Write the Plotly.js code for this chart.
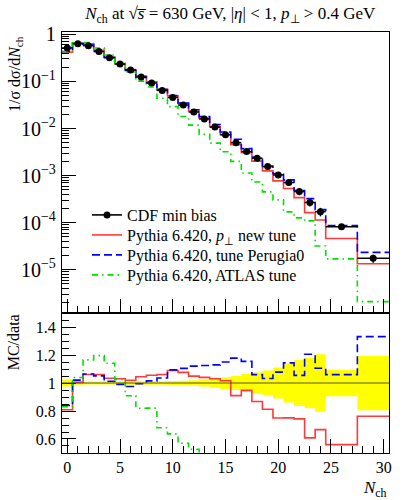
<!DOCTYPE html>
<html>
<head>
<meta charset="utf-8">
<script src="https://cdn.plot.ly/plotly-3.0.1.min.js"></script>
<style>html,body{margin:0;padding:0;background:#fff}#plot{width:406px;height:500px}</style>
</head>
<body>
<div id="plot"></div>
<script>
// bin edges in N_ch
const edges = [-0.5,0.5,1.5,2.5,3.5,4.5,5.5,6.5,7.5,8.5,9.5,10.5,11.5,12.5,13.5,14.5,15.5,16.5,17.5,18.5,19.5,20.5,21.5,22.5,23.5,24.5,27.5,30.5];
// CDF min bias data
const cdfData = [0.514,0.634,0.575,0.43,0.319,0.234,0.175,0.124,0.0925,0.0645,0.0457,0.0315,0.0224,0.0159,0.0107,0.00734,0.0050,0.00324,0.00234,0.00155,0.00103,7.1e-4,4.57e-4,2.68e-4,1.71e-4,8.2e-5,1.75e-5];
// relative data uncertainty
const cdfRelErr = [0.025,0.013,0.01,0.01,0.01,0.012,0.012,0.012,0.013,0.013,0.015,0.017,0.02,0.025,0.033,0.042,0.05,0.065,0.075,0.09,0.11,0.14,0.165,0.18,0.205,0.095,0.195];
// Pythia 6.420, pT new tune
const pythiaPtNew = [0.416,0.637,0.610,0.456,0.330,0.241,0.1785,0.1296,0.0976,0.0684,0.0498,0.0339,0.0235,0.01654,0.01102,0.00746,0.00455,0.00307,0.00203,0.00126,7.73e-4,5.33e-4,3.40e-4,1.63e-4,1.14e-4,4.59e-5,1.335e-5];
// Pythia 6.420, tune Perugia0
const pythiaPerugia0 = [0.432,0.647,0.612,0.452,0.323,0.2317,0.1706,0.1234,0.0939,0.0668,0.0500,0.0348,0.0251,0.01789,0.01209,0.00844,0.00589,0.00374,0.00248,0.0016,0.00111,8.12e-4,4.82e-4,3.23e-4,1.89e-4,8.69e-5,2.33e-5];
// Pythia 6.420, ATLAS tune
const pythiaAtlas = [0.427,0.659,0.670,0.514,0.364,0.240,0.159,0.1017,0.0759,0.0439,0.0291,0.01796,0.0118,7.5e-3,4.9e-3,3.2e-3,2.0e-3,1.13e-3,7.3e-4,4.5e-4,3.04e-4,1.69e-4,1.26e-4,1.09e-4,3.2e-5,1.7e-5,2.1e-6];

const legendNames = ['CDF min bias','Pythia 6.420, <i>p</i><sub>⊥</sub> new tune','Pythia 6.420, tune Perugia0','Pythia 6.420, ATLAS tune'];
const xTickVals = [0,5,10,15,20,25,30];

const FONT = 'Liberation Serif';
const centers = cdfData.map((_, i) => (edges[i] + edges[i+1]) / 2);
const halfW = cdfData.map((_, i) => (edges[i+1] - edges[i]) / 2);
const stepY = v => v.concat([v[v.length-1]]);
const ratio = mc => mc.map((v, i) => v / cdfData[i]);

const RED = '#ff3a3a', BLUE = '#0000ff', GREEN = '#00e000';
const mcStyles = [
  {vals: pythiaPtNew, color: RED, dash: 'solid'},
  {vals: pythiaPerugia0, color: BLUE, dash: '8px,4px'},
  {vals: pythiaAtlas, color: GREEN, dash: '6px,4px,1.5px,4px'}
];
const legendIds = ['legend','legend2','legend3','legend4'];

const traces = [];
// legend-only entry for data (line + marker)
traces.push({x:[null], y:[null], xaxis:'x', yaxis:'y', mode:'lines+markers', name: legendNames[0],
  legend: legendIds[0], line:{color:'black', width:1.6}, marker:{color:'black', size:7}, showlegend:true});

// ratio band
traces.push({x: edges, y: stepY(cdfRelErr.map(e => 1 - e)), xaxis:'x2', yaxis:'y2', mode:'lines',
  line:{shape:'hv', width:0, color:'#ffff00'}, showlegend:false, hoverinfo:'skip'});
traces.push({x: edges, y: stepY(cdfRelErr.map(e => 1 + e)), xaxis:'x2', yaxis:'y2', mode:'lines',
  line:{shape:'hv', width:0, color:'#ffff00'}, fill:'tonexty', fillcolor:'#ffff00', showlegend:false, hoverinfo:'skip'});

mcStyles.forEach((s, k) => {
  traces.push({x: edges, y: stepY(s.vals), xaxis:'x', yaxis:'y', mode:'lines', name: legendNames[k+1],
    legend: legendIds[k+1], line:{shape:'hv', color:s.color, width:1.6, dash:s.dash}, showlegend:true});
});
mcStyles.forEach(s => {
  traces.push({x: edges, y: stepY(ratio(s.vals)), xaxis:'x2', yaxis:'y2', mode:'lines',
    line:{shape:'hv', color:s.color, width:1.6, dash:s.dash}, showlegend:false});
});

// data points
traces.push({x: centers, y: cdfData, xaxis:'x', yaxis:'y', mode:'markers', showlegend:false,
  marker:{color:'black', size:7},
  error_x:{type:'data', array: halfW, color:'black', thickness:1.5, width:0},
  error_y:{type:'data', array: cdfData.map((v,i)=>v*cdfRelErr[i]), color:'black', thickness:1.5, width:0}});

const axisCommon = {showline:true, linecolor:'black', linewidth:1, mirror:true, ticks:'inside',
  ticklen:14, tickcolor:'black', tickwidth:1, showgrid:false, zeroline:false,
  tickfont:{family:FONT, size:16, color:'black'}};

const legendBase = {x:0.0765, xanchor:'left', yanchor:'middle', bgcolor:'rgba(0,0,0,0)', borderwidth:0,
  font:{family:FONT, size:16, color:'black'}};
const legendRowsPx = [215, 235, 255, 275];

const layout = {
  width:406, height:500,
  margin:{l:62, r:17, t:32, b:47},
  paper_bgcolor:'white', plot_bgcolor:'white',
  font:{family:FONT, color:'black'},
  title:{text:'<i>N</i><sub>ch</sub> at √<i>s\u0305</i> = 630 GeV, |<i>η</i>| &lt; 1, <i>p</i><sub>⊥</sub> &gt; 0.4 GeV',
    x:0.567, xanchor:'center', xref:'container', y:0.974, yanchor:'middle', yref:'container',
    font:{family:FONT, size:17, color:'black'}},
  showlegend:true,
  xaxis:Object.assign({}, axisCommon, {domain:[0,1], anchor:'y', range:[-0.5,30.5], matches:'x2',
    showticklabels:false, tickvals:xTickVals,
    minor:{ticks:'inside', ticklen:7, tickcolor:'black', dtick:1, tick0:0, showgrid:false}}),
  yaxis:Object.assign({}, axisCommon, {domain:[0.3325,1], anchor:'x', type:'log', range:[-5.92,0.05],
    dtick:1, exponentformat:'power', ticklabelstandoff:2,
    minor:{ticks:'inside', ticklen:7, tickcolor:'black', dtick:'D1', showgrid:false}}),
  xaxis2:Object.assign({}, axisCommon, {domain:[0,1], anchor:'y2', range:[-0.5,30.5],
    tickvals:xTickVals, ticktext:xTickVals.map(String),
    minor:{ticks:'inside', ticklen:7, tickcolor:'black', dtick:1, tick0:0, showgrid:false}}),
  yaxis2:Object.assign({}, axisCommon, {domain:[0,0.3325], anchor:'x2', range:[0.5,1.5],
    tickvals:[0.6,0.8,1,1.2,1.4], ticktext:['0.6','0.8','1','1.2','1.4'], ticklabelstandoff:2,
    minor:{ticks:'inside', ticklen:7, tickcolor:'black', dtick:0.05, tick0:0, showgrid:false}}),
  shapes:[{type:'line', xref:'x2 domain', x0:0, x1:1, yref:'y2', y0:1, y1:1, line:{color:'#555533', width:1}}],
  annotations:[
    {text:'1/σ dσ/d<i>N</i><sub>ch</sub>', xref:'paper', yref:'paper', x:-0.144, y:0.9,
      xanchor:'center', yanchor:'middle', textangle:-90, showarrow:false, font:{family:FONT, size:16, color:'black'}},
    {text:'MC/data', xref:'paper', yref:'paper', x:-0.148, y:0.262,
      xanchor:'center', yanchor:'middle', textangle:-90, showarrow:false, font:{family:FONT, size:16, color:'black'}},
    {text:'<i>N</i><sub>ch</sub>', xref:'paper', yref:'paper', x:1, y:-0.085,
      xanchor:'right', yanchor:'middle', showarrow:false, font:{family:FONT, size:17, color:'black'}}
  ]
};
legendIds.forEach((id, k) => {
  layout[id] = Object.assign({}, legendBase, {y: (453 - legendRowsPx[k]) / 421});
});

Plotly.newPlot('plot', traces, layout, {staticPlot:true, displayModeBar:false});
</script>
</body>
</html>
